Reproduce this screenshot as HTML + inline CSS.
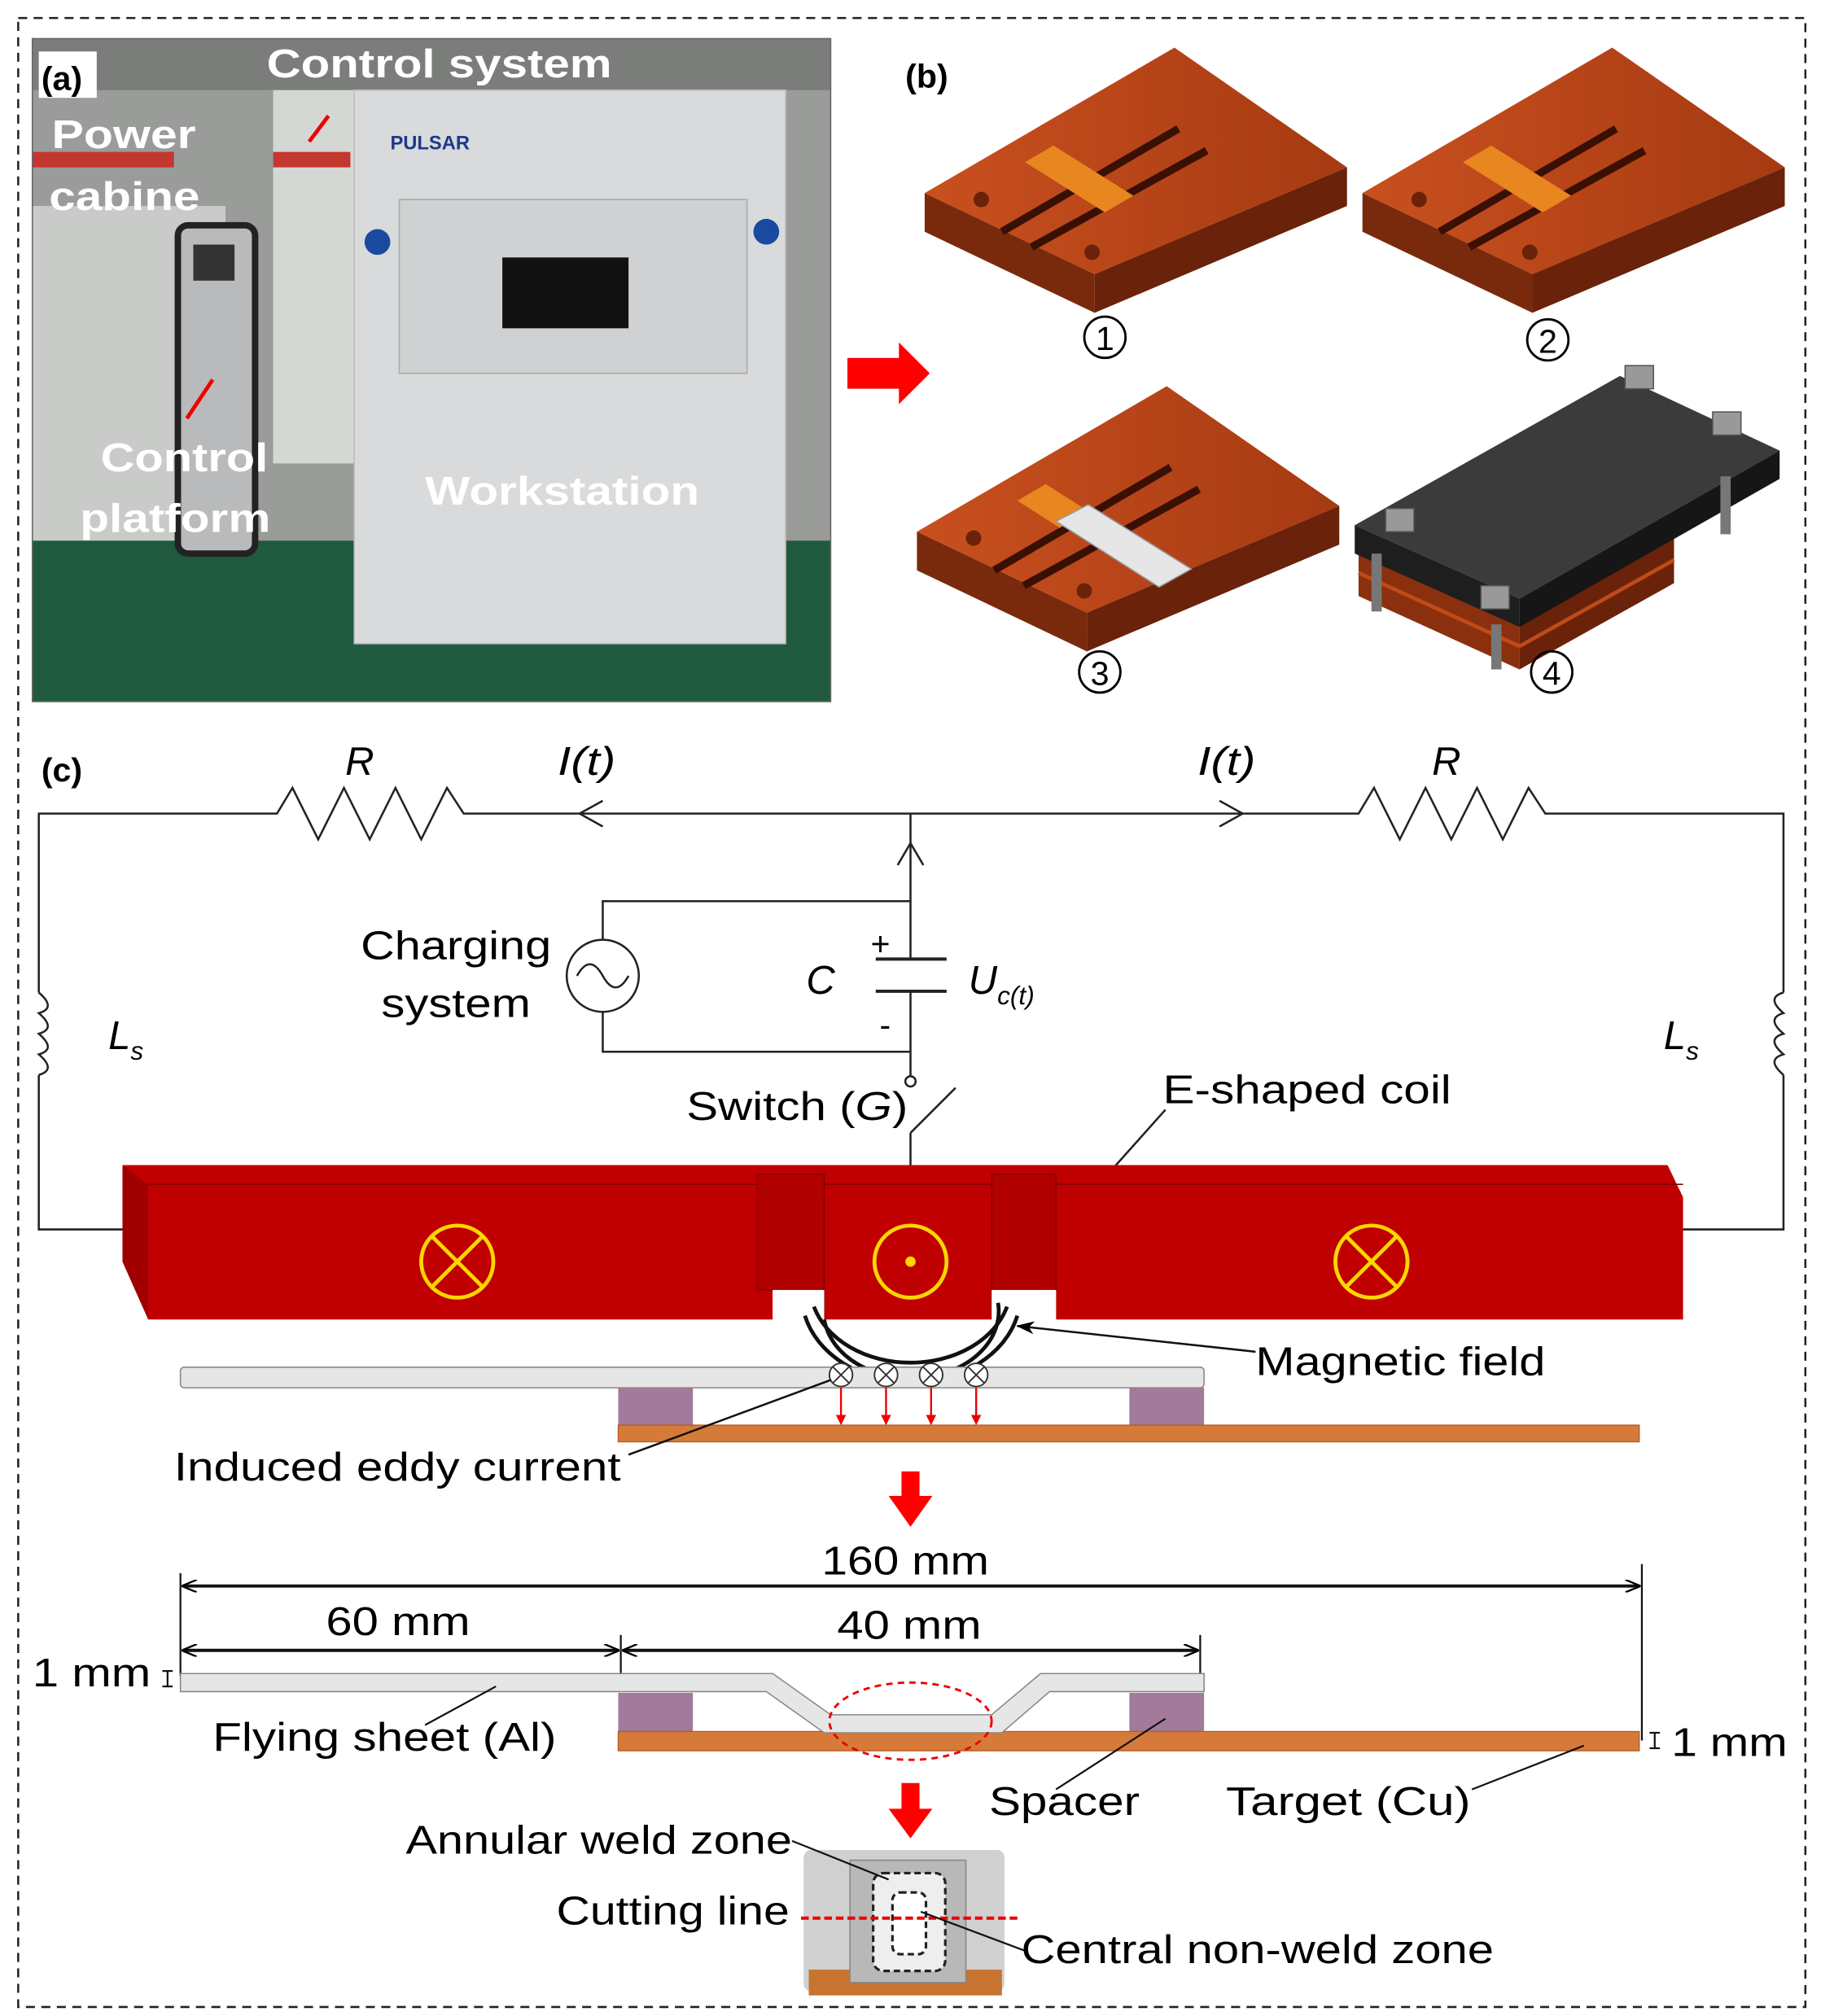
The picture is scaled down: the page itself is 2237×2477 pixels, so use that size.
<!DOCTYPE html>
<html><head><meta charset="utf-8"><style>
html,body{margin:0;padding:0;background:#fff}
svg{display:block}
text{font-family:"Liberation Sans",Arial,sans-serif}
</style></head><body>
<svg width="2237" height="2477" viewBox="0 0 1414 1566" xmlns="http://www.w3.org/2000/svg">
<defs>
<linearGradient id="cu" x1="0" y1="0" x2="1" y2="0"><stop offset="0" stop-color="#c9501f"/><stop offset="1" stop-color="#a63a12"/></linearGradient>
<marker id="ah" markerWidth="12" markerHeight="10" refX="11" refY="5" orient="auto-start-reverse" markerUnits="userSpaceOnUse"><path d="M0,0 L12,5 L0,10" fill="none" stroke="#000" stroke-width="1.5"/></marker>
<marker id="ahf" markerWidth="14" markerHeight="10" refX="13" refY="5" orient="auto" markerUnits="userSpaceOnUse"><path d="M0,0 L14,5 L0,10 L4,5z" fill="#000"/></marker>
<marker id="ahr" markerWidth="8" markerHeight="8" refX="7" refY="4" orient="auto" markerUnits="userSpaceOnUse"><path d="M0,0 L8,4 L0,8z" fill="#e00"/></marker>
<g id="plate">
<polygon points="718,150 912,37 1046,130 850,213" fill="url(#cu)"/>
<polygon points="718,150 850,213 850,243 718,180" fill="#7a2a0c"/>
<polygon points="850,213 1046,130 1046,160 850,243" fill="#6a220a"/>
<line x1="778" y1="180" x2="915" y2="100" stroke="#3a1004" stroke-width="6"/>
<line x1="801" y1="192" x2="937" y2="117" stroke="#3a1004" stroke-width="6"/>
<circle cx="762" cy="155" r="6" fill="#6a220a"/>
<circle cx="848" cy="196" r="6" fill="#6a220a"/>
</g>
</defs>
<rect width="1414" height="1566" fill="#fff"/>
<rect x="14" y="14" width="1388" height="1545" fill="none" stroke="#222" stroke-width="1.6" stroke-dasharray="7,5"/>

<!-- (a) photo -->
<rect x="25" y="30" width="620" height="515" fill="#9a9c9a"/>
<rect x="25" y="30" width="620" height="40" fill="#7b7d7b"/>
<rect x="25" y="160" width="150" height="270" fill="#c9cbc9"/>
<rect x="25" y="118" width="110" height="12" fill="#c4372f"/>
<rect x="212" y="70" width="80" height="290" fill="#d5d7d5"/>
<rect x="212" y="118" width="60" height="12" fill="#c4372f"/>
<rect x="25" y="420" width="620" height="125" fill="#1f5a3e"/>
<rect x="138" y="175" width="60" height="255" rx="8" fill="#b8babb" stroke="#222" stroke-width="5"/>
<rect x="150" y="190" width="32" height="28" fill="#333"/>
<rect x="275" y="70" width="335" height="430" fill="#d8dadb" stroke="#bbb"/>
<rect x="310" y="155" width="270" height="135" fill="#cfd1d2" stroke="#aaa"/>
<rect x="390" y="200" width="98" height="55" fill="#111"/>
<circle cx="293" cy="188" r="10" fill="#1a4aa0"/><circle cx="595" cy="180" r="10" fill="#1a4aa0"/>
<text x="303" y="116" font-size="15" font-weight="bold" fill="#1d3a8a">PULSAR</text>
<rect x="25" y="30" width="620" height="515" fill="none" stroke="#666"/>
<rect x="30" y="40" width="45" height="36" fill="#fff"/>
<text x="32" y="70" font-size="26" font-weight="bold">(a)</text>
<g font-weight="bold" fill="#fff" font-size="31">
<text x="207" y="60" textLength="268" lengthAdjust="spacingAndGlyphs">Control system</text>
<text x="40" y="115" textLength="112" lengthAdjust="spacingAndGlyphs">Power</text>
<text x="38" y="163" textLength="117" lengthAdjust="spacingAndGlyphs">cabine</text>
<text x="78" y="366" textLength="130" lengthAdjust="spacingAndGlyphs">Control</text>
<text x="62" y="413" textLength="148" lengthAdjust="spacingAndGlyphs">platform</text>
<text x="330" y="392" textLength="213" lengthAdjust="spacingAndGlyphs">Workstation</text>
</g>
<line x1="255" y1="90" x2="240" y2="110" stroke="#e00" stroke-width="3"/>
<line x1="145" y1="325" x2="165" y2="295" stroke="#e00" stroke-width="3"/>
<polygon points="658,278 698,278 698,266 722,290 698,314 698,302 658,302" fill="#f00"/>

<!-- (b) -->
<text x="703" y="68" font-size="26" font-weight="bold">(b)</text>
<use href="#plate"/>
<polygon points="796,126 818,113 880,152 858,165" fill="#e8861f"/>
<use href="#plate" transform="translate(340,0)"/>
<polygon points="1136,126 1158,113 1220,152 1198,165" fill="#e8861f"/>
<use href="#plate" transform="translate(-6,263)"/>
<polygon points="790,389 812,376 845,397 823,410" fill="#e8861f"/>
<polygon points="820,405 845,392 925,442 900,456" fill="#e6e6e6" stroke="#999"/>
<!-- plate 4 -->
<polygon points="1055,428 1180,485 1180,520 1055,463" fill="#8a300e"/>
<polygon points="1180,485 1300,418 1300,453 1180,520" fill="#6a220a"/>
<line x1="1055" y1="445" x2="1180" y2="502" stroke="#c04a18" stroke-width="3"/>
<line x1="1180" y1="502" x2="1300" y2="435" stroke="#c04a18" stroke-width="3"/>
<polygon points="1052,408 1258,292 1382,350 1180,465" fill="#3b3b3b"/>
<polygon points="1052,408 1180,465 1180,487 1052,430" fill="#1e1e1e"/>
<polygon points="1180,465 1382,350 1382,372 1180,487" fill="#161616"/>
<g fill="#777"><rect x="1065" y="430" width="8" height="45"/><rect x="1158" y="485" width="8" height="35"/><rect x="1336" y="370" width="8" height="45"/></g>
<g fill="#999" stroke="#555"><rect x="1262" y="284" width="22" height="18"/><rect x="1330" y="320" width="22" height="18"/><rect x="1076" y="395" width="22" height="18"/><rect x="1150" y="455" width="22" height="18"/></g>
<g fill="none" stroke="#000" stroke-width="1.8">
<circle cx="858" cy="262" r="16"/><circle cx="1202" cy="264" r="16"/><circle cx="854" cy="522" r="16"/><circle cx="1205" cy="522" r="16"/></g>
<g font-size="26" text-anchor="middle">
<text x="858" y="272">1</text><text x="1202" y="274">2</text><text x="854" y="532">3</text><text x="1205" y="532">4</text></g>

<!-- (c) circuit -->
<text x="32" y="607" font-size="26" font-weight="bold">(c)</text>
<g fill="none" stroke="#222" stroke-width="1.6">
<polyline points="95,955 30,955 30,835"/>
<path d="M30,835 q14,-4 0,-16 q14,-4 0,-16 q14,-4 0,-16 q14,-4 0,-16"/>
<polyline points="30,771 30,632 215,632 227,612 247,652 267,612 287,652 307,612 327,652 347,612 360,632 1055,632 1067,612 1087,652 1107,612 1127,652 1147,612 1167,652 1187,612 1200,632 1385,632 1385,771"/>
<path d="M1385,771 q-14,4 0,16 q-14,4 0,16 q-14,4 0,16 q-14,4 0,16"/>
<polyline points="1385,835 1385,955 1307,955"/>
<polyline points="707,632 707,745"/>
<line x1="680" y1="745" x2="735" y2="745" stroke-width="2.5"/>
<line x1="680" y1="770" x2="735" y2="770" stroke-width="2.5"/>
<polyline points="707,770 707,836"/>
<polyline points="707,700 468,700 468,730"/>
<polyline points="468,786 468,817 707,817"/>
<circle cx="468" cy="758" r="28"/>
<path d="M448,758 q10,-18 20,0 q10,18 20,0"/>
<circle cx="707" cy="840" r="4"/>
<line x1="707" y1="905" x2="707" y2="880"/>
<line x1="707" y1="880" x2="742" y2="845"/>
<polyline points="450,632 468,622" /><polyline points="450,632 468,642"/>
<polyline points="965,632 947,622"/><polyline points="965,632 947,642"/>
<polyline points="707,655 697,672"/><polyline points="707,655 717,672"/>
<line x1="855" y1="918" x2="905" y2="862"/>
</g>
<g font-size="31">
<text x="268" y="602" font-style="italic">R</text>
<text x="433" y="602" font-style="italic" textLength="45" lengthAdjust="spacingAndGlyphs">I(t)</text>
<text x="930" y="602" font-style="italic" textLength="45" lengthAdjust="spacingAndGlyphs">I(t)</text>
<text x="1112" y="602" font-style="italic">R</text>
<text x="280" y="745" textLength="148" lengthAdjust="spacingAndGlyphs">Charging</text>
<text x="296" y="790" textLength="116" lengthAdjust="spacingAndGlyphs">system</text>
<text x="626" y="772" font-style="italic">C</text>
<text x="676" y="742" font-size="26">+</text>
<text x="683" y="805" font-size="26">-</text>
<text x="752" y="772" font-style="italic">U<tspan font-size="20" dy="8">c(t)</tspan></text>
<text x="84" y="815" font-style="italic">L<tspan font-size="20" dy="8">s</tspan></text>
<text x="1292" y="815" font-style="italic">L<tspan font-size="20" dy="8">s</tspan></text>
<text x="533" y="870" textLength="172" lengthAdjust="spacingAndGlyphs">Switch (<tspan font-style="italic">G</tspan>)</text>
<text x="903" y="857" textLength="224" lengthAdjust="spacingAndGlyphs">E-shaped coil</text>
</g>
<!-- coil -->
<polygon points="95,905 1295,905 1307,930 1307,1025 820,1025 820,1002 770,1002 770,1025 640,1025 640,1002 600,1002 600,1025 115,1025 95,980" fill="#c00000"/>
<polygon points="95,905 115,920 115,1025 95,980" fill="#a00000"/>
<line x1="115" y1="920" x2="1307" y2="920" stroke="#8a0000"/>
<rect x="588" y="912" width="52" height="90" fill="#b00000" stroke="#800000" stroke-width="0.8"/>
<rect x="770" y="912" width="50" height="90" fill="#b00000" stroke="#800000" stroke-width="0.8"/>
<line x1="640" y1="930" x2="640" y2="1025" stroke="#800000"/>
<line x1="770" y1="930" x2="770" y2="1025" stroke="#800000"/>
<rect x="600" y="1002" width="40" height="24" fill="#fff"/><rect x="770" y="1002" width="50" height="24" fill="#fff"/>
<g fill="none" stroke="#ffd700" stroke-width="3">
<circle cx="355" cy="980" r="28"/><path d="M335,960 L375,1000 M375,960 L335,1000"/>
<circle cx="707" cy="980" r="28"/>
<circle cx="1065" cy="980" r="28"/><path d="M1045,960 L1085,1000 M1085,960 L1045,1000"/>
</g>
<circle cx="707" cy="980" r="4" fill="#ffd700"/>
<g fill="none" stroke="#111" stroke-width="3">
<path d="M632,1015 A78,60 0 0 0 782,1015"/>
<path d="M625,1022 A85,68 0 0 0 790,1022"/>
<path d="M640,1025 A68,52 0 0 0 775,1012"/>
</g>
<line x1="975" y1="1050" x2="790" y2="1030" stroke="#111" stroke-width="1.6" marker-end="url(#ahf)"/>
<text x="975" y="1068" font-size="31" textLength="225" lengthAdjust="spacingAndGlyphs">Magnetic field</text>
<!-- upper sheet assembly -->
<rect x="140" y="1062" width="795" height="16" rx="3" fill="#e6e6e6" stroke="#888"/>
<rect x="480" y="1078" width="58" height="30" fill="#a27a9a"/>
<rect x="877" y="1078" width="58" height="30" fill="#a27a9a"/>
<rect x="480" y="1107" width="793" height="13" fill="#d67a3a" stroke="#b05a20" stroke-width="0.8"/>
<g fill="#fff" stroke="#333" stroke-width="1.2">
<circle cx="653" cy="1068" r="9"/><circle cx="688" cy="1068" r="9"/><circle cx="723" cy="1068" r="9"/><circle cx="758" cy="1068" r="9"/>
<path d="M647,1062l12,12m0,-12l-12,12M682,1062l12,12m0,-12l-12,12M717,1062l12,12m0,-12l-12,12M752,1062l12,12m0,-12l-12,12"/>
</g>
<g stroke="#e00" stroke-width="1.5"><line x1="653" y1="1078" x2="653" y2="1106" marker-end="url(#ahr)"/><line x1="688" y1="1078" x2="688" y2="1106" marker-end="url(#ahr)"/><line x1="723" y1="1078" x2="723" y2="1106" marker-end="url(#ahr)"/><line x1="758" y1="1078" x2="758" y2="1106" marker-end="url(#ahr)"/></g>
<line x1="488" y1="1130" x2="645" y2="1072" stroke="#111" stroke-width="1.6"/>
<text x="135" y="1150" font-size="31" textLength="347" lengthAdjust="spacingAndGlyphs">Induced eddy current</text>
<polygon points="700,1143 714,1143 714,1162 724,1162 707,1186 690,1162 700,1162" fill="#f00"/>
<!-- dimensions -->
<g stroke="#111" stroke-width="1.4">
<line x1="140" y1="1222" x2="140" y2="1302"/><line x1="1275" y1="1215" x2="1275" y2="1352"/>
<line x1="482" y1="1270" x2="482" y2="1302"/><line x1="932" y1="1270" x2="932" y2="1302"/>
</g>
<g stroke="#111" stroke-width="2.5" fill="none">
<line x1="142" y1="1232" x2="1273" y2="1232" marker-end="url(#ah)" marker-start="url(#ah)"/>
<line x1="142" y1="1282" x2="480" y2="1282" marker-end="url(#ah)" marker-start="url(#ah)"/>
<line x1="484" y1="1282" x2="930" y2="1282" marker-end="url(#ah)" marker-start="url(#ah)"/>
</g>
<g font-size="31">
<text x="638" y="1223" textLength="130" lengthAdjust="spacingAndGlyphs">160 mm</text>
<text x="253" y="1270" textLength="112" lengthAdjust="spacingAndGlyphs">60 mm</text>
<text x="650" y="1273" textLength="112" lengthAdjust="spacingAndGlyphs">40 mm</text>
<text x="25" y="1310" textLength="92" lengthAdjust="spacingAndGlyphs">1 mm</text>
<text x="1298" y="1364" textLength="90" lengthAdjust="spacingAndGlyphs">1 mm</text>
<text x="165" y="1360" textLength="267" lengthAdjust="spacingAndGlyphs">Flying sheet (Al)</text>
<text x="768" y="1410" textLength="117" lengthAdjust="spacingAndGlyphs">Spacer</text>
<text x="952" y="1410" textLength="190" lengthAdjust="spacingAndGlyphs">Target (Cu)</text>
<text x="315" y="1440" textLength="300" lengthAdjust="spacingAndGlyphs">Annular weld zone</text>
<text x="432" y="1495" textLength="181" lengthAdjust="spacingAndGlyphs">Cutting line</text>
<text x="793" y="1525" textLength="367" lengthAdjust="spacingAndGlyphs">Central non-weld zone</text>
</g>
<!-- lower assembly -->
<rect x="480" y="1315" width="58" height="33" fill="#a27a9a"/>
<rect x="877" y="1315" width="58" height="33" fill="#a27a9a"/>
<rect x="480" y="1345" width="793" height="15" fill="#d67a3a" stroke="#b05a20" stroke-width="0.8"/>
<path d="M140,1300 L600,1300 L645,1332 L770,1332 L808,1300 L935,1300 L935,1314 L815,1314 L778,1346 L640,1346 L595,1314 L140,1314 Z" fill="#e6e6e6" stroke="#888"/>
<ellipse cx="707" cy="1337" rx="63" ry="30" fill="none" stroke="#e00" stroke-width="1.8" stroke-dasharray="5,4"/>
<g stroke="#111" stroke-width="1.4">
<line x1="330" y1="1340" x2="385" y2="1310"/>
<line x1="820" y1="1390" x2="905" y2="1335"/>
<line x1="1143" y1="1390" x2="1230" y2="1356"/>
<line x1="130" y1="1298" x2="130" y2="1310"/><line x1="126" y1="1298" x2="134" y2="1298"/><line x1="126" y1="1310" x2="134" y2="1310"/>
<line x1="1285" y1="1346" x2="1285" y2="1358"/><line x1="1281" y1="1346" x2="1289" y2="1346"/><line x1="1281" y1="1358" x2="1289" y2="1358"/>
</g>
<polygon points="700,1385 714,1385 714,1405 724,1405 707,1428 690,1405 700,1405" fill="#f00"/>
<!-- specimen -->
<rect x="624" y="1437" width="156" height="110" rx="6" fill="#d0d0d0"/>
<rect x="628" y="1530" width="150" height="20" fill="#c6742f"/>
<rect x="660" y="1445" width="90" height="95" fill="#b8b8b8" stroke="#888"/>
<rect x="678" y="1455" width="56" height="76" rx="8" fill="#eee" stroke="#222" stroke-width="2" stroke-dasharray="5,3"/>
<rect x="693" y="1470" width="26" height="48" rx="6" fill="#fff" stroke="#222" stroke-width="2" stroke-dasharray="5,3"/>
<line x1="622" y1="1490" x2="790" y2="1490" stroke="#e00" stroke-width="2.5" stroke-dasharray="6,3"/>
<g stroke="#111" stroke-width="1.4"><line x1="615" y1="1430" x2="690" y2="1460"/><line x1="795" y1="1515" x2="715" y2="1485"/></g>
</svg>
</body></html>
